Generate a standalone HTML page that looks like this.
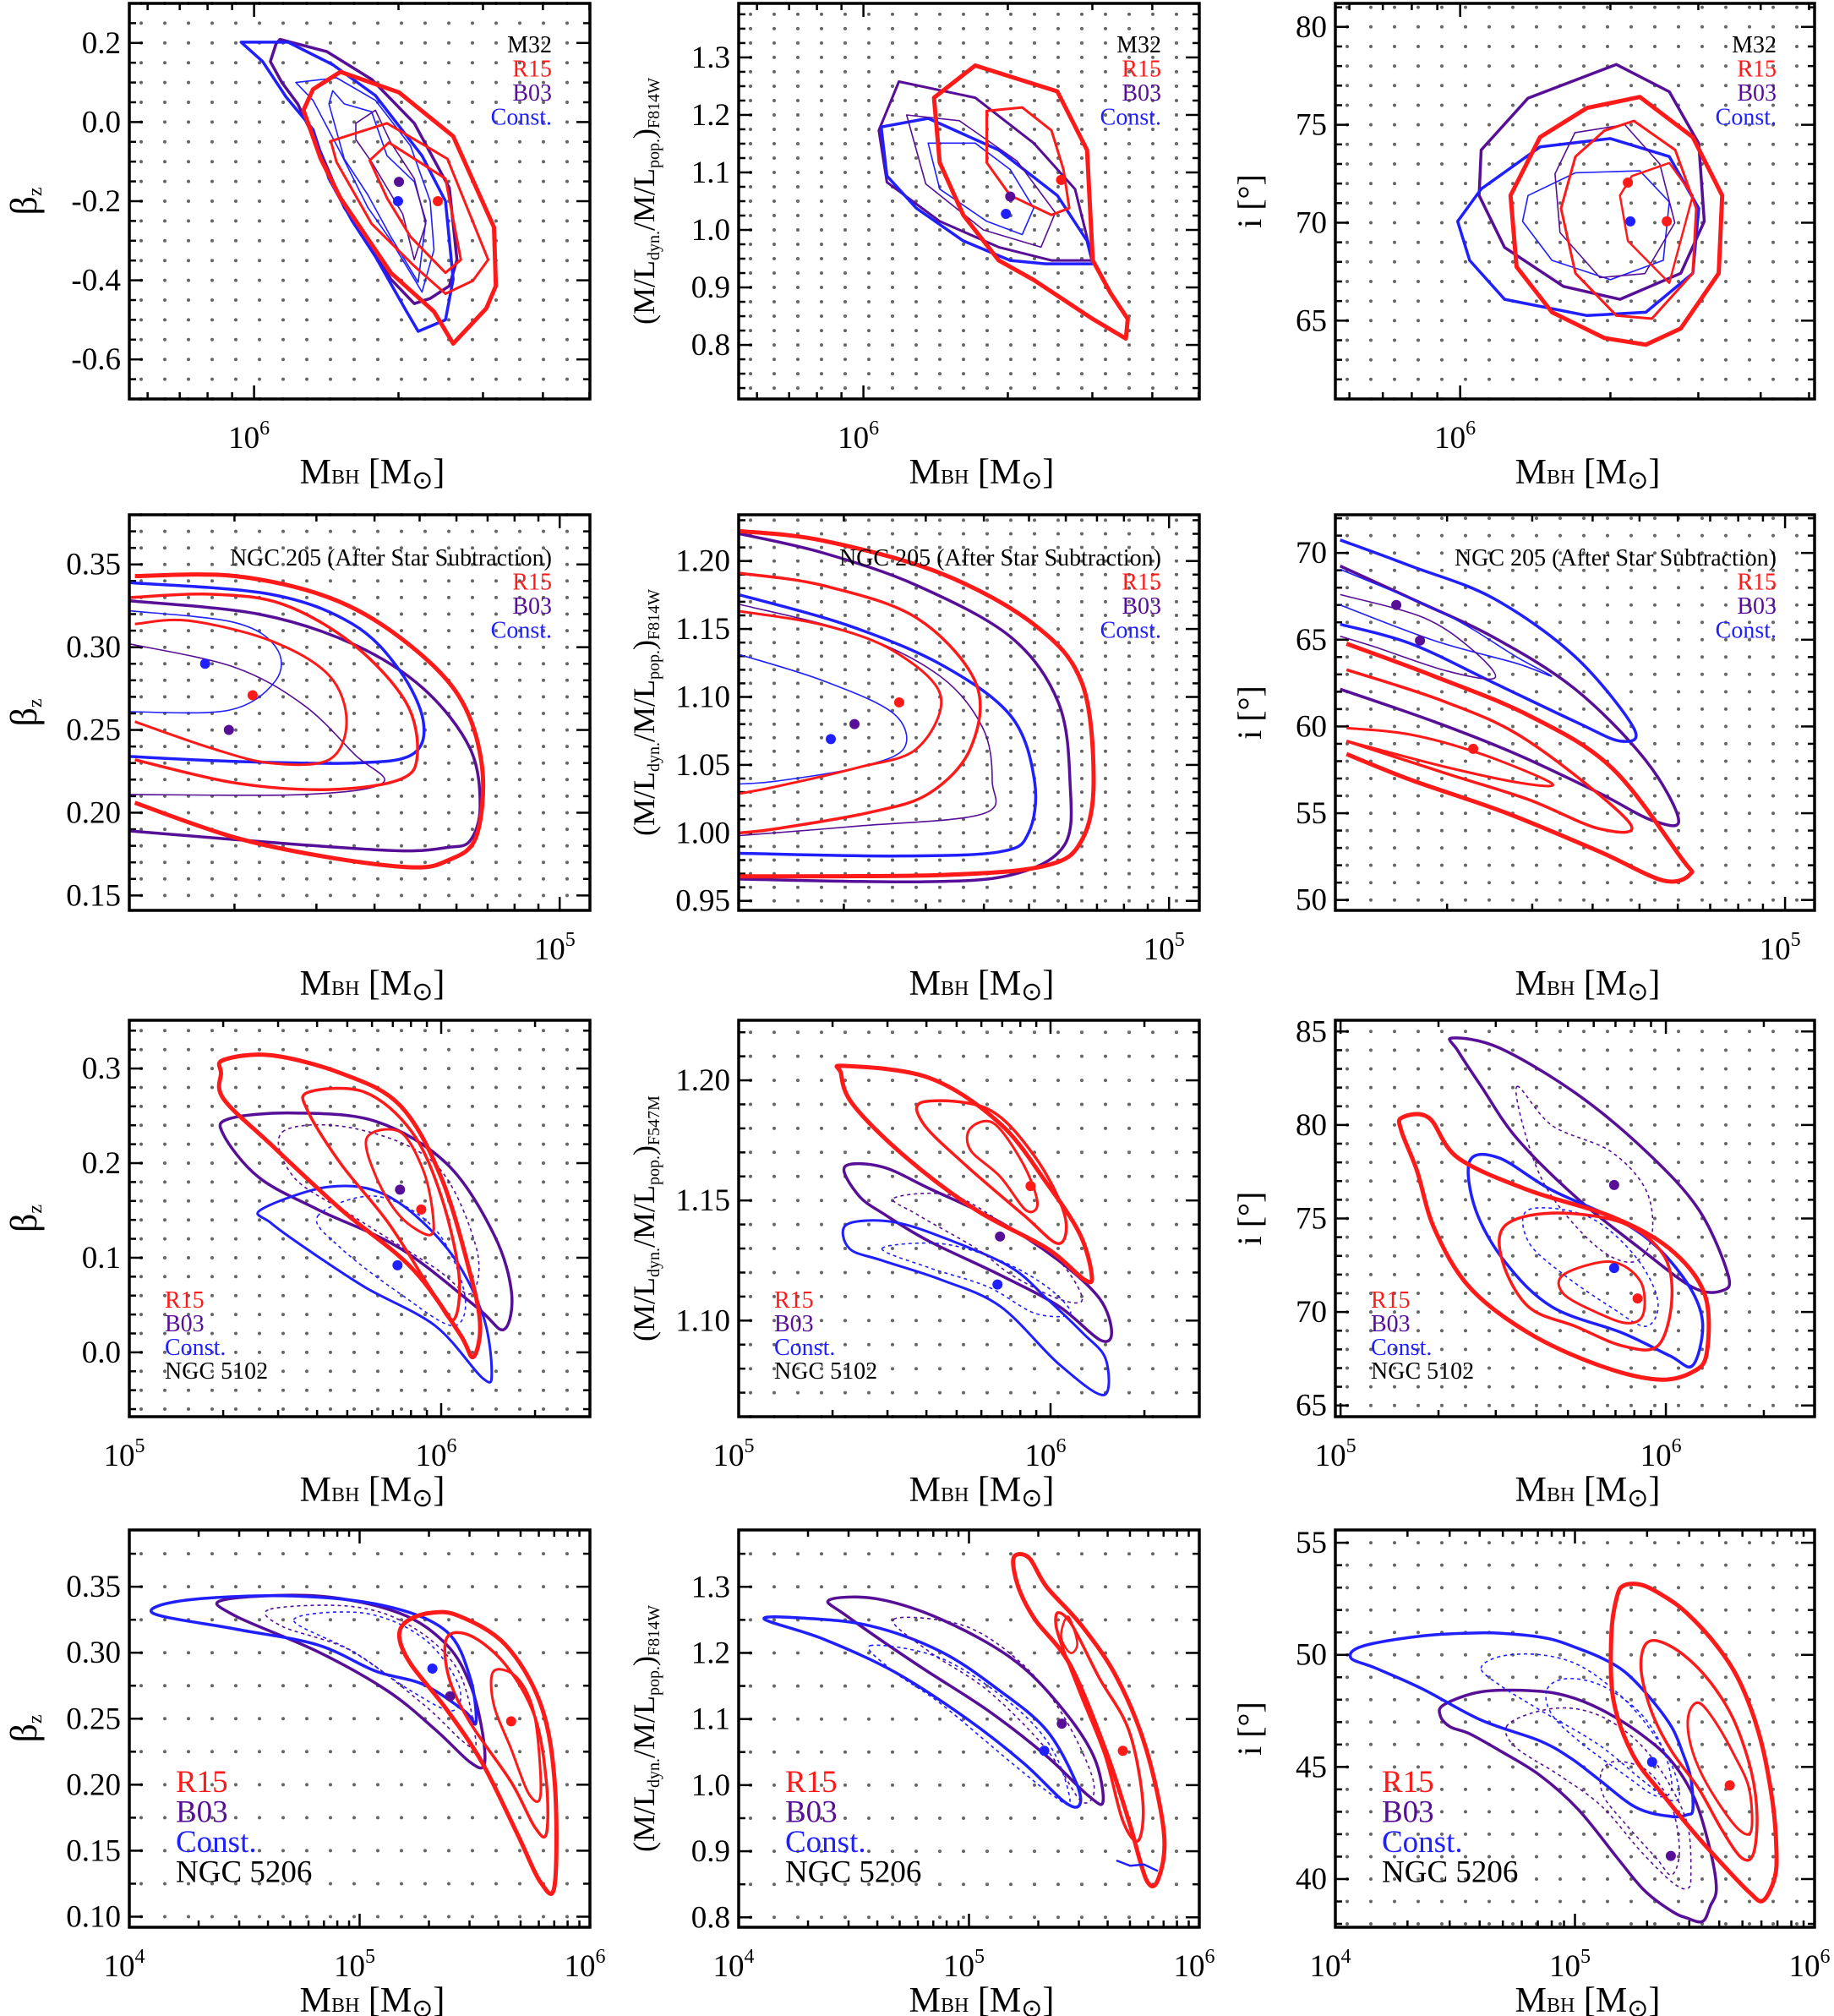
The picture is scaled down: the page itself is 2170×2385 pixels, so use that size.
<!DOCTYPE html>
<html><head><meta charset="utf-8"><style>
html,body{margin:0;padding:0;background:#fff;}
svg{display:block;font-family:"Liberation Serif",serif;}
</style></head><body>
<svg id="fig" xmlns="http://www.w3.org/2000/svg" width="2170" height="2385" viewBox="0 0 2170 2385"></svg>
<script>
// ---- panel layout data ----
const colX = [[153,698],[874,1419],[1580,2147]];
const rowY = [[4,472],[609,1077],[1207,1676],[1810,2280]];
// x ranges (log10 MBH)
const xRanges = [[5.74,6.70],[5.74,6.70],[5.75,6.71],[4.075,5.065],[4.075,5.065],[4.07,5.061],[5.0,6.477],[5.0,6.477],[4.984,6.457],[4.0,6.0],[4.0,6.0],[4.0,6.0]];
const yRanges = [[-0.70,0.30],[0.706,1.394],[61.0,81.2],[0.141,0.38],[0.943,1.234],[49.4,72.2],[-0.068,0.351],[1.060,1.225],[64.4,85.6],[0.092,0.393],[0.785,1.386],[37.85,55.57]];
const yTicks = [[-0.6,-0.4,-0.2,0.0,0.2],[0.8,0.9,1.0,1.1,1.2,1.3],[65,70,75,80],[0.15,0.20,0.25,0.30,0.35],[0.95,1.00,1.05,1.10,1.15,1.20],[50,55,60,65,70],[0.0,0.1,0.2,0.3],[1.10,1.15,1.20],[65,70,75,80,85],[0.10,0.15,0.20,0.25,0.30,0.35],[0.8,0.9,1.0,1.1,1.2,1.3],[40,45,50,55]];
const yDecimals = [1,1,0,2,2,0,1,2,0,2,1,0];
const yMinorDiv = [4,4,5,5,5,5,5,5,5,2,2,5];
const xTickDecades = [[6],[6],[6],[5],[5],[5],[5,6],[5,6],[5,6],[4,5,6],[4,5,6],[4,5,6]];

// ---- contour data (log10 MBH, parameter) ----
// Panel 1: M32 beta_z
const p1RedThick=[[6.18,0.127],[6.302,0.075],[6.415,-0.036],[6.5,-0.266],[6.504,-0.414],[6.484,-0.471],[6.415,-0.56],[6.375,-0.479],[6.285,-0.381],[6.18,-0.192],[6.139,-0.093],[6.103,0.03],[6.123,0.083]];
const p1RedMed=[[6.277,-0.003],[6.403,-0.093],[6.488,-0.348],[6.456,-0.401],[6.399,-0.434],[6.334,-0.364],[6.245,-0.257],[6.172,-0.101],[6.16,-0.048]];
const p1RedThin=[[6.281,-0.052],[6.399,-0.143],[6.431,-0.348],[6.399,-0.381],[6.326,-0.29],[6.277,-0.192],[6.241,-0.097]];
const p1BlueThick=[[5.973,0.202],[6.071,0.202],[6.164,0.145],[6.253,0.067],[6.35,-0.085],[6.399,-0.2],[6.415,-0.397],[6.399,-0.5],[6.342,-0.529],[6.318,-0.479],[6.253,-0.34],[6.204,-0.249],[6.156,-0.143],[6.123,-0.019],[6.107,0.005],[6.067,0.063],[6.018,0.153]];
const p1PurpleThick=[[6.054,0.209],[6.152,0.178],[6.245,0.108],[6.334,-0.003],[6.407,-0.167],[6.423,-0.348],[6.407,-0.414],[6.367,-0.446],[6.334,-0.459],[6.285,-0.397],[6.245,-0.315],[6.188,-0.216],[6.139,-0.077],[6.091,0.046],[6.058,0.1],[6.034,0.153],[6.046,0.198]];
const p1BlueThinA=[[6.087,0.1],[6.172,0.112],[6.253,0.055],[6.326,-0.06],[6.367,-0.2],[6.375,-0.323],[6.35,-0.43],[6.334,-0.397],[6.285,-0.299],[6.237,-0.216],[6.18,-0.077],[6.148,-0.003],[6.123,0.055]];
const p1BlueThinB=[[6.164,0.079],[6.188,0.046],[6.245,0.026],[6.277,-0.085],[6.334,-0.151],[6.358,-0.249],[6.342,-0.405],[6.285,-0.29],[6.237,-0.184],[6.188,-0.093],[6.156,0.046]];
const p1PurpleThin=[[6.212,-0.003],[6.253,0.03],[6.285,-0.052],[6.334,-0.143],[6.358,-0.257],[6.334,-0.348],[6.31,-0.233],[6.245,-0.101],[6.212,-0.044]];
const p1Best=[[6.302,-0.151,'p'],[6.3,-0.2,'b'],[6.383,-0.2,'r']];
// Panel 2: M32 M/L
const p2RedThick=[[6.233,1.286],[6.404,1.241],[6.466,1.139],[6.478,0.947],[6.515,0.89],[6.551,0.845],[6.547,0.811],[6.478,0.845],[6.355,0.913],[6.282,0.947],[6.208,1.026],[6.159,1.117],[6.147,1.23]];
const p2RedMed=[[6.257,1.207],[6.331,1.213],[6.392,1.173],[6.417,1.105],[6.429,1.038],[6.392,1.026],[6.306,1.06],[6.257,1.117]];
const p2PurpleThick=[[6.074,1.258],[6.233,1.23],[6.355,1.151],[6.441,1.071],[6.478,0.947],[6.392,0.947],[6.282,0.97],[6.159,1.015],[6.049,1.083],[6.032,1.173]];
const p2BlueThick=[[6.037,1.179],[6.135,1.194],[6.282,1.139],[6.404,1.06],[6.466,0.981],[6.478,0.941],[6.38,0.941],[6.306,0.947],[6.208,0.981],[6.11,1.038],[6.049,1.094]];
const p2BlueThin=[[6.135,1.151],[6.233,1.151],[6.306,1.105],[6.355,1.038],[6.331,0.992],[6.257,1.015],[6.159,1.071]];
const p2PurpleThin=[[6.09,1.2],[6.2,1.19],[6.32,1.12],[6.4,1.03],[6.37,0.97],[6.25,1.0],[6.13,1.08]];
const p2Best=[[6.412,1.087,'r'],[6.306,1.058,'p'],[6.297,1.028,'b']];
// Panel 3: M32 inclination
const p3PurpleThick=[[6.313,78.08],[6.419,76.69],[6.478,74.04],[6.489,70.07],[6.442,67.42],[6.32,66.09],[6.207,66.75],[6.089,68.74],[6.038,71.39],[6.042,73.71],[6.136,76.36]];
const p3RedThick=[[6.36,76.42],[6.466,74.37],[6.525,71.39],[6.518,67.42],[6.442,64.6],[6.372,63.77],[6.289,64.11],[6.184,65.43],[6.113,67.75],[6.101,71.39],[6.16,74.37],[6.254,75.86]];
const p3RedMed=[[6.348,75.2],[6.431,73.71],[6.473,70.73],[6.466,67.42],[6.384,65.1],[6.313,65.26],[6.231,67.42],[6.202,70.73],[6.231,73.38],[6.289,74.7]];
const p3RedThin=[[6.344,72.38],[6.419,73.05],[6.466,71.39],[6.419,66.92],[6.336,69.07],[6.32,71.39]];
const p3BlueThick=[[5.995,70.07],[6.042,71.72],[6.16,73.87],[6.301,74.3],[6.419,73.38],[6.478,70.73],[6.466,67.42],[6.372,65.43],[6.254,65.26],[6.089,66.09],[6.019,68.08]];
const p3BlueThin=[[6.136,71.39],[6.231,72.55],[6.36,72.65],[6.419,71.06],[6.407,68.08],[6.301,67.09],[6.184,68.08],[6.125,70.07]];
const p3PurpleThin=[[6.23,74.6],[6.33,75.0],[6.4,73.0],[6.43,70.0],[6.37,67.4],[6.28,67.2],[6.2,69.5],[6.19,72.5]];
const p3Best=[[6.336,72.05,'r'],[6.341,70.07,'b'],[6.414,70.07,'r']];
// Panel 4: NGC 205 beta_z
const p4RedThick=[[4.087,0.343],[4.302,0.343],[4.504,0.33],[4.656,0.306],[4.782,0.271],[4.833,0.228],[4.82,0.185],[4.758,0.171],[4.682,0.167],[4.504,0.173],[4.302,0.185],[4.087,0.206]];
const p4PurpleThick=[[4.075,0.328],[4.353,0.32],[4.555,0.302],[4.707,0.275],[4.807,0.239],[4.829,0.204],[4.807,0.183],[4.758,0.179],[4.656,0.177],[4.429,0.181],[4.075,0.189]];
const p4BlueThick=[[4.075,0.339],[4.378,0.332],[4.555,0.314],[4.656,0.286],[4.707,0.255],[4.682,0.235],[4.555,0.23],[4.302,0.231],[4.075,0.234]];
const p4RedMed=[[4.075,0.33],[4.251,0.332],[4.404,0.326],[4.555,0.302],[4.669,0.267],[4.694,0.235],[4.656,0.22],[4.504,0.214],[4.302,0.218],[4.087,0.232]];
const p4RedThin=[[4.087,0.314],[4.202,0.316],[4.378,0.304],[4.504,0.283],[4.542,0.255],[4.504,0.232],[4.378,0.23],[4.251,0.239],[4.087,0.255]];
const p4PurpleThin=[[4.075,0.302],[4.3,0.288],[4.45,0.265],[4.56,0.235],[4.62,0.218],[4.45,0.211],[4.075,0.211]];
const p4BlueThin=[[4.075,0.261],[4.29,0.262],[4.39,0.28],[4.39,0.3],[4.3,0.315],[4.075,0.322]];
const p4Best=[[4.238,0.29,'b'],[4.34,0.271,'r'],[4.289,0.25,'p']];
// Panel 5: NGC 205 M/L
const p5RedThick=[[4.078,1.222],[4.256,1.215],[4.509,1.191],[4.711,1.153],[4.813,1.11],[4.838,1.038],[4.813,0.995],[4.736,0.976],[4.509,0.969],[4.078,0.968]];
const p5PurpleThick=[[4.078,1.22],[4.256,1.206],[4.458,1.182],[4.66,1.144],[4.762,1.096],[4.787,1.038],[4.775,0.991],[4.66,0.969],[4.458,0.964],[4.078,0.966]];
const p5BlueThick=[[4.078,1.175],[4.307,1.153],[4.509,1.124],[4.66,1.086],[4.711,1.038],[4.698,1.0],[4.635,0.986],[4.407,0.983],[4.078,0.985]];
const p5RedMed=[[4.078,1.191],[4.256,1.182],[4.458,1.158],[4.585,1.11],[4.573,1.062],[4.484,1.029],[4.356,1.015],[4.155,1.003],[4.078,1.0]];
const p5RedThin=[[4.078,1.163],[4.256,1.153],[4.407,1.134],[4.509,1.101],[4.458,1.062],[4.331,1.048],[4.155,1.034],[4.078,1.029]];
const p5PurpleThin=[[4.078,1.168],[4.33,1.146],[4.509,1.115],[4.6,1.077],[4.62,1.038],[4.6,1.014],[4.33,1.005],[4.078,0.998]];
const p5BlueThin=[[4.078,1.131],[4.256,1.112],[4.407,1.088],[4.43,1.062],[4.33,1.048],[4.155,1.038],[4.078,1.036]];
const p5Best=[[4.273,1.069,'b'],[4.324,1.08,'p'],[4.42,1.096,'r']];
// Panel 6: NGC 205 inclination
const p6BlueThick=[[4.08,70.75],[4.226,69.25],[4.397,67.38],[4.566,64.02],[4.687,59.91],[4.659,59.16],[4.566,60.28],[4.397,62.52],[4.226,64.77],[4.08,65.89]];
const p6PurpleThick=[[4.08,69.25],[4.226,67.38],[4.397,65.14],[4.566,62.15],[4.712,58.04],[4.78,54.6],[4.724,54.6],[4.615,56.17],[4.444,58.41],[4.274,60.28],[4.08,62.15]];
const p6RedThick=[[4.093,64.77],[4.274,62.9],[4.469,60.65],[4.64,57.66],[4.785,52.43],[4.804,51.5],[4.748,51.12],[4.615,52.8],[4.42,55.05],[4.226,56.92],[4.093,58.41]];
const p6RedMed=[[4.093,63.27],[4.299,61.4],[4.469,59.16],[4.677,54.49],[4.615,54.11],[4.469,55.79],[4.299,57.29],[4.093,59.16]];
const p6RedThin=[[4.093,59.91],[4.226,59.53],[4.372,58.41],[4.517,56.73],[4.456,56.73],[4.299,57.66],[4.093,59.16]];
const p6BlueThin=[[4.08,69.06],[4.299,66.45],[4.444,64.02],[4.517,62.9],[4.444,63.64],[4.274,64.95],[4.08,67.0]];
const p6PurpleThin=[[4.08,67.6],[4.25,66.3],[4.35,64.5],[4.4,62.8],[4.3,63.2],[4.15,64.6],[4.08,65.2]];
const p6Best=[[4.196,67.0,'p'],[4.245,64.95,'p'],[4.355,58.71,'r']];
// Panel 7: NGC 5102 beta_z
const p7RedThick=[[5.302,0.309],[5.453,0.314],[5.679,0.295],[5.868,0.261],[6.0,0.185],[6.094,0.082],[6.125,0.028],[6.102,-0.005],[6.057,0.021],[5.906,0.089],[5.679,0.151],[5.453,0.22],[5.302,0.268],[5.294,0.295]];
const p7PurpleThick=[[5.321,0.247],[5.528,0.253],[5.792,0.244],[6.019,0.199],[6.17,0.124],[6.226,0.062],[6.2,0.024],[6.113,0.048],[5.868,0.11],[5.604,0.151],[5.415,0.185],[5.302,0.23]];
const p7BlueThick=[[5.423,0.151],[5.642,0.175],[5.83,0.165],[6.019,0.11],[6.132,0.041],[6.162,-0.021],[6.132,-0.027],[5.981,0.028],[5.755,0.069],[5.566,0.11],[5.453,0.137]];
const p7RedMed=[[5.574,0.275],[5.755,0.275],[5.906,0.233],[6.0,0.165],[6.057,0.082],[6.038,0.034],[5.962,0.069],[5.83,0.137],[5.679,0.199],[5.574,0.254]];
const p7RedThin=[[5.762,0.227],[5.868,0.233],[5.943,0.192],[5.974,0.144],[5.962,0.124],[5.868,0.144],[5.792,0.185]];
const p7PurpleDot=[[5.491,0.233],[5.717,0.237],[5.981,0.199],[6.113,0.11],[6.094,0.062],[5.981,0.089],[5.717,0.144],[5.528,0.185]];
const p7BlueDot=[[5.604,0.144],[5.792,0.165],[5.981,0.13],[6.075,0.062],[6.038,0.028],[5.868,0.062],[5.679,0.11]];
const p7Best=[[5.868,0.172,'p'],[5.936,0.151,'r'],[5.86,0.092,'b']];
// Panel 8: NGC 5102 M/L
const p8RedThick=[[5.34,1.206],[5.611,1.201],[5.838,1.182],[5.989,1.157],[6.094,1.136],[6.132,1.119],[6.109,1.117],[5.989,1.13],[5.762,1.146],[5.536,1.168],[5.366,1.19],[5.328,1.203]];
const p8RedMed=[[5.592,1.191],[5.8,1.188],[5.951,1.168],[6.045,1.144],[6.026,1.132],[5.913,1.144],[5.725,1.165],[5.592,1.182]];
const p8RedThin=[[5.743,1.18],[5.819,1.182],[5.913,1.165],[5.958,1.149],[5.921,1.146],[5.838,1.16],[5.743,1.171]];
const p8PurpleThick=[[5.34,1.164],[5.46,1.164],[5.611,1.155],[5.838,1.141],[6.026,1.125],[6.158,1.109],[6.196,1.095],[6.158,1.092],[6.026,1.106],[5.838,1.119],[5.611,1.133],[5.47,1.144],[5.385,1.152]];
const p8BlueThick=[[5.347,1.14],[5.498,1.141],[5.687,1.133],[5.875,1.122],[5.989,1.109],[6.102,1.095],[6.177,1.084],[6.17,1.069],[6.026,1.082],[5.838,1.106],[5.649,1.117],[5.46,1.125],[5.355,1.13]];
const p8PurpleDot=[[5.498,1.151],[5.687,1.152],[5.875,1.138],[6.026,1.125],[6.102,1.109],[6.026,1.109],[5.875,1.119],[5.762,1.13],[5.574,1.144]];
const p8BlueDot=[[5.46,1.13],[5.649,1.132],[5.838,1.125],[5.989,1.114],[6.064,1.103],[5.951,1.103],[5.8,1.114],[5.611,1.122]];
const p8Best=[[5.936,1.156,'r'],[5.838,1.135,'p'],[5.83,1.115,'b']];
// Panel 9: NGC 5102 inclination
const p9PurpleThick=[[5.343,84.65],[5.487,84.13],[5.722,81.71],[5.939,78.59],[6.101,75.47],[6.191,72.0],[6.173,71.14],[6.083,71.31],[5.921,73.39],[5.722,76.16],[5.542,79.28],[5.433,82.05],[5.361,83.96]];
const p9RedThick=[[5.188,80.39],[5.271,80.39],[5.361,78.24],[5.578,76.51],[5.83,75.12],[6.011,73.39],[6.119,70.96],[6.126,67.84],[6.083,66.8],[5.975,66.39],[5.794,67.15],[5.578,68.88],[5.397,71.31],[5.289,74.43],[5.235,77.55],[5.188,79.63]];
const p9BlueThick=[[5.397,78.07],[5.487,78.24],[5.65,76.51],[5.903,74.43],[6.047,72.0],[6.112,69.58],[6.083,67.15],[6.011,67.67],[5.866,68.88],[5.65,70.27],[5.505,72.69],[5.415,75.47]];
const p9RedMed=[[5.505,74.6],[5.65,75.29],[5.866,74.77],[5.993,73.04],[6.018,70.61],[5.975,68.19],[5.866,68.19],[5.722,69.23],[5.578,70.27],[5.498,72.69]];
const p9RedThin=[[5.686,72.0],[5.83,72.69],[5.921,71.66],[5.931,69.92],[5.884,69.4],[5.794,69.92],[5.686,70.96]];
const p9PurpleDot=[[5.542,82.05],[5.65,79.97],[5.83,78.59],[5.939,76.51],[5.957,74.08],[5.903,72.69],[5.794,73.39],[5.65,76.16],[5.578,78.94]];
const p9BlueDot=[[5.578,75.47],[5.758,75.12],[5.903,73.04],[5.975,70.61],[5.939,69.23],[5.83,70.27],[5.686,72.0],[5.578,73.74]];
const p9Best=[[5.841,76.79,'p'],[5.841,72.35,'b'],[5.913,70.72,'r']];
// Panel 10: NGC 5206 beta_z
const p10BlueThick=[[4.102,0.33],[4.255,0.34],[4.714,0.343],[5.122,0.335],[5.378,0.316],[5.48,0.281],[5.505,0.247],[5.454,0.256],[5.276,0.276],[5.071,0.286],[4.816,0.306],[4.459,0.318]];
const p10PurpleThick=[[4.408,0.34],[4.816,0.343],[5.173,0.33],[5.378,0.306],[5.48,0.276],[5.531,0.242],[5.541,0.215],[5.48,0.217],[5.327,0.242],[5.122,0.271],[4.816,0.301],[4.459,0.328]];
const p10RedThick=[[5.199,0.323],[5.301,0.33],[5.429,0.328],[5.633,0.306],[5.786,0.261],[5.847,0.202],[5.847,0.124],[5.786,0.126],[5.684,0.163],[5.531,0.217],[5.378,0.257],[5.224,0.291],[5.173,0.311]];
const p10RedMed=[[5.378,0.311],[5.48,0.313],[5.633,0.291],[5.76,0.252],[5.811,0.202],[5.811,0.163],[5.76,0.168],[5.658,0.202],[5.48,0.247],[5.388,0.281]];
const p10RedThin=[[5.582,0.286],[5.684,0.281],[5.76,0.252],[5.786,0.193],[5.735,0.193],[5.658,0.227],[5.582,0.261]];
const p10PurpleDot=[[4.612,0.333],[4.969,0.335],[5.224,0.32],[5.429,0.286],[5.505,0.232],[5.454,0.232],[5.276,0.261],[4.969,0.301],[4.663,0.32]];
const p10BlueDot=[[4.714,0.325],[5.02,0.33],[5.276,0.311],[5.429,0.276],[5.403,0.256],[5.224,0.271],[4.969,0.301]];
const p10Best=[[5.316,0.288,'b'],[5.393,0.267,'p'],[5.658,0.248,'r']];
// Panel 11: NGC 5206 M/L
const p11BlueThick=[[4.112,1.251],[4.265,1.253],[4.571,1.241],[4.878,1.202],[5.133,1.143],[5.337,1.083],[5.464,1.005],[5.48,0.97],[5.413,0.975],[5.235,1.034],[4.98,1.103],[4.673,1.172],[4.367,1.221]];
const p11PurpleThick=[[4.393,1.28],[4.597,1.282],[4.878,1.251],[5.184,1.192],[5.388,1.123],[5.541,1.044],[5.582,0.975],[5.515,0.985],[5.337,1.044],[5.082,1.113],[4.776,1.182],[4.469,1.256]];
const p11RedThick=[[5.194,1.344],[5.26,1.344],[5.337,1.3],[5.49,1.241],[5.643,1.162],[5.77,1.054],[5.847,0.926],[5.821,0.857],[5.77,0.857],[5.694,0.946],[5.592,1.054],[5.439,1.182],[5.286,1.251],[5.214,1.3]];
const p11RedMed=[[5.388,1.261],[5.449,1.241],[5.566,1.162],[5.694,1.083],[5.755,0.975],[5.735,0.916],[5.668,0.946],[5.592,1.044],[5.49,1.133],[5.413,1.202],[5.378,1.241]];
const p11RedThin=[[5.4,1.225],[5.43,1.255],[5.47,1.215],[5.44,1.2]];
const p11PurpleDot=[[4.673,1.251],[4.98,1.241],[5.235,1.182],[5.413,1.103],[5.541,1.005],[5.49,0.975],[5.337,1.054],[5.082,1.143],[4.827,1.202]];
const p11BlueDot=[[4.571,1.211],[4.878,1.192],[5.184,1.123],[5.362,1.054],[5.439,0.975],[5.362,0.985],[5.184,1.034],[4.878,1.123],[4.673,1.172]];
const p11BlueStray=[[5.64,0.886],[5.7,0.878],[5.76,0.88],[5.82,0.87]];
const p11Best=[[5.403,1.093,'p'],[5.327,1.052,'b'],[5.668,1.052,'r']];
// Panel 12: NGC 5206 inclination
const p12BlueThick=[[4.065,49.86],[4.114,50.39],[4.365,50.85],[4.608,50.98],[4.77,50.9],[4.9,50.7],[4.998,50.35],[5.111,49.86],[5.208,49.24],[5.306,48.17],[5.403,46.79],[5.452,45.56],[5.484,44.48],[5.492,43.1],[5.468,42.87],[5.403,42.79],[5.257,43.18],[5.095,44.48],[4.981,45.4],[4.852,46.17],[4.608,47.09],[4.365,48.47],[4.17,49.4]];
const p12PurpleThick=[[4.438,47.28],[4.454,47.78],[4.608,48.35],[4.819,48.4],[4.965,48.17],[5.111,47.55],[5.273,46.48],[5.403,45.25],[5.5,43.56],[5.565,41.26],[5.59,39.57],[5.565,38.8],[5.533,38.11],[5.468,38.26],[5.403,38.57],[5.29,39.49],[5.176,40.95],[5.014,43.1],[4.852,44.64],[4.689,45.71],[4.56,46.48],[4.479,46.79]];
const p12RedThick=[[5.208,53.11],[5.281,53.11],[5.371,52.62],[5.468,51.85],[5.598,50.32],[5.695,48.63],[5.776,46.17],[5.825,43.41],[5.841,41.26],[5.833,40.03],[5.784,39.03],[5.727,39.42],[5.63,40.49],[5.5,42.03],[5.371,43.71],[5.241,45.56],[5.16,48.01],[5.152,50.93],[5.176,52.62]];
const p12RedMed=[[5.29,50.39],[5.346,50.62],[5.452,50.01],[5.565,48.78],[5.663,47.09],[5.736,44.79],[5.76,42.79],[5.744,41.1],[5.695,40.95],[5.614,42.18],[5.517,44.02],[5.403,45.71],[5.322,47.4],[5.277,49.24]];
const p12RedThin=[[5.476,47.4],[5.517,47.86],[5.581,47.09],[5.663,45.56],[5.727,44.02],[5.736,42.18],[5.687,42.18],[5.598,43.41],[5.517,44.95],[5.476,46.33]];
const p12BlueDot=[[4.608,49.4],[4.689,49.93],[4.852,50.01],[5.014,49.55],[5.176,48.32],[5.306,46.79],[5.403,45.1],[5.436,43.71],[5.387,43.56],[5.273,44.48],[5.095,46.02],[4.852,47.55],[4.689,48.63]];
const p12BlueDot2=[[4.884,48.47],[4.965,48.94],[5.111,48.63],[5.273,47.4],[5.371,45.71],[5.403,44.02],[5.338,43.71],[5.208,44.64],[5.014,46.17],[4.9,47.4]];
const p12PurpleDot=[[4.714,46.79],[4.819,47.4],[4.965,47.63],[5.111,47.25],[5.257,46.17],[5.371,44.64],[5.468,42.49],[5.484,40.18],[5.468,39.57],[5.403,39.88],[5.273,41.26],[5.111,43.25],[4.933,44.64],[4.754,45.86]];
const p12PurpleDot2=[[5.111,44.79],[5.176,45.25],[5.306,44.79],[5.403,43.25],[5.436,41.26],[5.403,40.18],[5.338,40.95],[5.208,42.49],[5.119,43.71]];
const p12Best=[[5.322,45.22,'b'],[5.646,44.18,'r'],[5.4,41.03,'p']];

const RED='#ff1a1a', PUR='#560f96', BLU='#1f1fff';
// [panel index, array, color, width, dashed]
const contourList = [
 [0,p1PurpleThick,PUR,3.5,0],[0,p1BlueThick,BLU,3.5,0],[0,p1BlueThinA,BLU,1.6,0],[0,p1BlueThinB,BLU,1.6,0],[0,p1PurpleThin,PUR,1.6,0],[0,p1RedThick,RED,5,0],[0,p1RedMed,RED,3,0],[0,p1RedThin,RED,3,0],
 [1,p2PurpleThick,PUR,3,0],[1,p2BlueThick,BLU,3.5,0],[1,p2BlueThin,BLU,1.6,0],[1,p2PurpleThin,PUR,1.6,0],[1,p2RedThick,RED,5,0],[1,p2RedMed,RED,3,0],
 [2,p3PurpleThick,PUR,3.5,0],[2,p3BlueThick,BLU,3.5,0],[2,p3BlueThin,BLU,1.6,0],[2,p3PurpleThin,PUR,1.6,0],[2,p3RedThick,RED,5,0],[2,p3RedMed,RED,3,0],[2,p3RedThin,RED,2.5,0],
 [3,p4PurpleThick,PUR,3.5,0],[3,p4BlueThick,BLU,3.5,0],[3,p4PurpleThin,PUR,1.6,0],[3,p4BlueThin,BLU,1.6,0],[3,p4RedThick,RED,5,0],[3,p4RedMed,RED,3.5,0],[3,p4RedThin,RED,3,0],
 [4,p5PurpleThick,PUR,3.5,0],[4,p5BlueThick,BLU,3.5,0],[4,p5PurpleThin,PUR,1.6,0],[4,p5BlueThin,BLU,1.6,0],[4,p5RedThick,RED,5,0],[4,p5RedMed,RED,3.5,0],[4,p5RedThin,RED,3,0],
 [5,p6PurpleThick,PUR,3.5,0],[5,p6BlueThick,BLU,3.5,0],[5,p6BlueThin,BLU,1.6,0],[5,p6PurpleThin,PUR,1.6,0],[5,p6RedThick,RED,5,0],[5,p6RedMed,RED,3.5,0],[5,p6RedThin,RED,3,0],
 [6,p7PurpleThick,PUR,3.5,0],[6,p7BlueThick,BLU,3,0],[6,p7PurpleDot,PUR,1.6,1],[6,p7BlueDot,BLU,1.6,1],[6,p7RedThick,RED,5,0],[6,p7RedMed,RED,3.5,0],[6,p7RedThin,RED,3,0],
 [7,p8PurpleThick,PUR,3.5,0],[7,p8BlueThick,BLU,3,0],[7,p8PurpleDot,PUR,1.6,1],[7,p8BlueDot,BLU,1.6,1],[7,p8RedThick,RED,5,0],[7,p8RedMed,RED,3.5,0],[7,p8RedThin,RED,3,0],
 [8,p9PurpleThick,PUR,3.5,0],[8,p9BlueThick,BLU,3.5,0],[8,p9PurpleDot,PUR,1.6,1],[8,p9BlueDot,BLU,1.6,1],[8,p9RedThick,RED,5,0],[8,p9RedMed,RED,3.5,0],[8,p9RedThin,RED,3,0],
 [9,p10PurpleThick,PUR,3.5,0],[9,p10BlueThick,BLU,3.5,0],[9,p10PurpleDot,PUR,1.6,1],[9,p10BlueDot,BLU,1.6,1],[9,p10RedThick,RED,5,0],[9,p10RedMed,RED,3.5,0],[9,p10RedThin,RED,3,0],
 [10,p11PurpleThick,PUR,3.5,0],[10,p11BlueThick,BLU,3.5,0],[10,p11PurpleDot,PUR,1.6,1],[10,p11BlueDot,BLU,1.6,1],[10,p11RedThick,RED,5,0],[10,p11RedMed,RED,3.5,0],[10,p11RedThin,RED,2.5,0],
 [11,p12PurpleThick,PUR,3.5,0],[11,p12BlueThick,BLU,3.5,0],[11,p12BlueDot,BLU,1.6,1],[11,p12BlueDot2,BLU,1.6,1],[11,p12PurpleDot,PUR,1.6,1],[11,p12PurpleDot2,PUR,1.6,1],[11,p12RedThick,RED,5,0],[11,p12RedMed,RED,3.5,0],[11,p12RedThin,RED,3,0]
];
const bestList = [p1Best,p2Best,p3Best,p4Best,p5Best,p6Best,p7Best,p8Best,p9Best,p10Best,p11Best,p12Best];
const openPanels = [3,4,5];
const straightPanels = [0,1,2];

const NS='http://www.w3.org/2000/svg';
const svg=document.getElementById('fig');
function mk(tag,attrs,parent){const e=document.createElementNS(NS,tag);for(const k in attrs)e.setAttribute(k,attrs[k]);(parent||svg).appendChild(e);return e;}
function geom(i){const c=i%3,r=Math.floor(i/3);const [x0,x1]=colX[c],[y0,y1]=rowY[r];const xr=xRanges[i],yr=yRanges[i];
 return {c,r,x0,x1,y0,y1,sx:v=>x0+(v-xr[0])/(xr[1]-xr[0])*(x1-x0),sy:v=>y1-(v-yr[0])/(yr[1]-yr[0])*(y1-y0)};}
function pathD(pts,closed,smooth){
 if(!smooth){return 'M'+pts.map(p=>p[0].toFixed(1)+','+p[1].toFixed(1)).join('L')+(closed?'Z':'');}
 const n=pts.length;let d='M'+pts[0][0].toFixed(1)+','+pts[0][1].toFixed(1);
 const segs=closed?n:n-1;
 for(let k=0;k<segs;k++){
  const p0=pts[closed?(k-1+n)%n:Math.max(k-1,0)],p1=pts[k],p2=pts[(k+1)%n],p3=pts[closed?(k+2)%n:Math.min(k+2,n-1)];
  const c1=[p1[0]+(p2[0]-p0[0])/6,p1[1]+(p2[1]-p0[1])/6],c2=[p2[0]-(p3[0]-p1[0])/6,p2[1]-(p3[1]-p1[1])/6];
  d+='C'+c1[0].toFixed(1)+','+c1[1].toFixed(1)+' '+c2[0].toFixed(1)+','+c2[1].toFixed(1)+' '+p2[0].toFixed(1)+','+p2[1].toFixed(1);
 }
 return d+(closed?'Z':'');
}
function txt(x,y,str,size,fill,anchor,parent){const t=mk('text',{x,y,'font-size':size,fill:fill||'#000','text-anchor':anchor||'start'},parent);t.textContent=str;return t;}

const legendTexts=[['M32','R15','B03','Const.'],['NGC 205 (After Star Subtraction)','R15','B03','Const.'],['R15','B03','Const.','NGC 5102'],['R15','B03','Const.','NGC 5206']];
const legendColors=[['#000',RED,PUR,BLU],['#000',RED,PUR,BLU],[RED,PUR,BLU,'#000'],[RED,PUR,BLU,'#000']];
const defs=mk('defs',{});

for(let i=0;i<12;i++){
 const g=geom(i);
 const pg=mk('g',{});
 
 
 const cp=mk('clipPath',{id:'clip'+i},defs);mk('rect',{x:g.x0,y:g.y0,width:g.x1-g.x0,height:g.y1-g.y0},cp);
 // dotted grid + y ticks
 const yr=yRanges[i],yt=yTicks[i];const step=(yt[1]-yt[0])/yMinorDiv[i];
 const grid=mk('g',{fill:'#666'},pg);
 
 
 const axG=mk('g',{stroke:'#000','stroke-width':2.5},pg);
 
 
 for(let v=yt[0]-10*step;v<=yr[1]+1e-9;v+=step){
  if(v<yr[0]-1e-9)continue;
  const y=g.sy(v);
  for(let x=g.x0+14;x<g.x1-4;x+=28){mk('circle',{cx:x.toFixed(1),cy:y.toFixed(1),r:2},grid);}
  const isMaj=yt.some(t=>Math.abs(t-v)<step/10);const L=isMaj?16:8;
  mk('line',{x1:g.x0,y1:y,x2:g.x0+L,y2:y},axG);mk('line',{x1:g.x1,y1:y,x2:g.x1-L,y2:y},axG);
 }
 yt.forEach(t=>{const lab=txt(g.x0-10,g.sy(t)+12,t.toFixed(yDecimals[i]),37,'#000','end',pg);
  
  });
 // x ticks (log)
 const xr=xRanges[i];
 for(let d=Math.floor(xr[0]);d<=Math.ceil(xr[1]);d++){
  for(let m=1;m<=9;m++){const lv=d+Math.log10(m);if(lv<xr[0]-1e-6||lv>xr[1]+1e-6)continue;
   const x=g.sx(lv),L=m===1?16:8;
   mk('line',{x1:x,y1:g.y1,x2:x,y2:g.y1-L},axG);mk('line',{x1:x,y1:g.y0,x2:x,y2:g.y0+L},axG);}
 }
 xTickDecades[i].forEach(d=>{const x=g.sx(d);const t=mk('text',{x:x-6,y:g.y1+58,'font-size':37,'text-anchor':'middle'},pg);
  
  
  t.textContent='10';const s=mk('tspan',{dy:-16,'font-size':24},t);s.textContent=String(d);});
 // contours
 const cg=mk('g',{'clip-path':'url(#clip'+i+')',fill:'none','stroke-linejoin':'round'},pg);
 contourList.filter(c=>c[0]===i).forEach((c,k)=>{
  const pts=c[1].map(p=>[g.sx(p[0]),g.sy(p[1])]);
  const closed=!openPanels.includes(i)||c[1]===p4BlueThin?!openPanels.includes(i):true;
  const p=mk('path',{d:pathD(pts,!openPanels.includes(i),!straightPanels.includes(i)),stroke:c[2],'stroke-width':c[3]},cg);
  if(c[4])p.setAttribute('stroke-dasharray','4 4');
  
  
 });
 if(i===10){const pl=mk('path',{d:pathD(p11BlueStray.map(p=>[g.sx(p[0]),g.sy(p[1])]),false,false),stroke:BLU,'stroke-width':2.5,fill:'none'},cg);
  
  }
 bestList[i].forEach(b=>{const dot=mk('circle',{cx:g.sx(b[0]),cy:g.sy(b[1]),r:6,fill:b[2]==='r'?RED:b[2]==='p'?PUR:BLU},pg);
  
  });
 // frame
 const fr=mk('rect',{x:g.x0,y:g.y0,width:g.x1-g.x0,height:g.y1-g.y0,fill:'none',stroke:'#000','stroke-width':3.5},pg);
 
 
 // legend
 const lg=mk('g',{},pg);
 
 
 if(g.r<2){const base=g.r===0?g.y0+58:g.y0+60;
  legendTexts[g.r].forEach((s,k)=>txt(g.x1-45,base+k*28.5,s,28,legendColors[g.r][k],'end',lg));}
 else if(g.r===2){legendTexts[2].forEach((s,k)=>txt(g.x0+42,g.y0+340+k*28,s,28,legendColors[2][k],'start',lg));}
 else {legendTexts[3].forEach((s,k)=>txt(g.x0+55,g.y0+310+k*35.5,s,37,legendColors[3][k],'start',lg));}
 // x axis label
 const xl=mk('text',{x:(g.x0+g.x1)/2+15,y:g.y1+100,'font-size':42,'text-anchor':'middle'},pg);
 
 
 xl.textContent='M';let s1=mk('tspan',{'font-size':24},xl);s1.textContent='BH';let s2=mk('tspan',{},xl);s2.textContent=' [M';
 let s3=mk('tspan',{'font-size':30,dy:6,'font-family':'DejaVu Sans'},xl);s3.textContent='⊙';let s4=mk('tspan',{dy:-6},xl);s4.textContent=']';
 // y axis title
 const yc=(g.y0+g.y1)/2;let yx,yl;
 if(g.c===0){yx=g.x0-110;yl=mk('text',{x:0,y:0,'font-size':44,'text-anchor':'middle',transform:`translate(${yx},${yc}) rotate(-90)`},pg);yl.textContent='β';const z=mk('tspan',{'font-size':24,dy:6},yl);z.textContent='z';}
 else if(g.c===1){yx=g.x0-100;yl=mk('text',{x:0,y:0,'font-size':36,'text-anchor':'middle',transform:`translate(${yx},${yc}) rotate(-90)`},pg);
  yl.textContent='(M/L';const a=mk('tspan',{'font-size':20,dy:6},yl);a.textContent='dyn.';const b=mk('tspan',{dy:-6},yl);b.textContent='/M/L';
  const c2=mk('tspan',{'font-size':20,dy:6},yl);c2.textContent='pop.';const d2=mk('tspan',{dy:-6},yl);d2.textContent=')';
  const e2=mk('tspan',{'font-size':20,dy:6},yl);e2.textContent=g.r===2?'F547M':'F814W';}
 else {yx=g.x0-88;yl=mk('text',{x:0,y:0,'font-size':40,'text-anchor':'middle',transform:`translate(${yx},${yc}) rotate(-90)`},pg);yl.textContent='i [°]';}
 
 
}
</script>
</body></html>
